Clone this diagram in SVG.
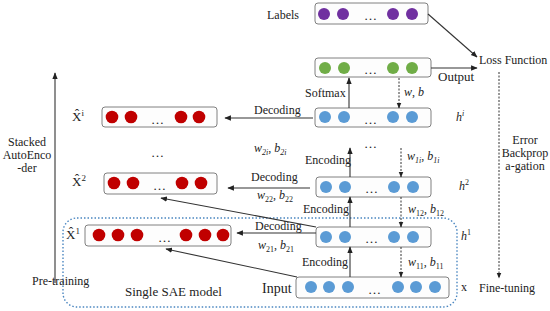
<svg xmlns="http://www.w3.org/2000/svg" width="550" height="311" viewBox="0 0 550 311">
<style>
text{font-family:"Liberation Serif","DejaVu Serif",serif;font-size:12px;fill:#222}
.box{fill:#fdfdfd;stroke:#808080;stroke-width:1}
.red{fill:#c00000}
.blue{fill:#5b9bd5}
.green{fill:#70ad47}
.purple{fill:#7030a0}
.ln{stroke:#333;stroke-width:1.1;fill:none}
.dash{stroke:#333;stroke-width:1;fill:none;stroke-dasharray:2,1.5}
.it{font-style:italic}
.dots{font-size:13px}
</style>
<defs>
<marker id="ah" viewBox="0 0 10 10" refX="9" refY="5" markerWidth="6" markerHeight="6" orient="auto">
<path d="M0,1 L10,5 L0,9 z" fill="#222"/>
</marker>
</defs>
<rect x="0" y="0" width="550" height="311" fill="#fff"/>

<g id="sae-frame">
<rect x="63" y="218" width="394" height="89" rx="14" fill="none" stroke="#4a86c0" stroke-width="1.4" stroke-dasharray="1.5,2"/>
<text x="125" y="296" style="font-size:13px">Single SAE model</text>
</g>

<g id="labels">
<text x="267" y="19">Labels</text>
<rect class="box" x="315" y="3" width="113" height="21" rx="3"/>
<circle class="purple" cx="324" cy="14" r="6"/><circle class="purple" cx="343" cy="14" r="6"/>
<text class="dots" x="364" y="20">…</text>
<circle class="purple" cx="393" cy="14" r="6"/><circle class="purple" cx="412" cy="14" r="6"/>
</g>

<g id="output">
<rect class="box" x="315" y="58" width="116" height="19" rx="3"/>
<circle class="green" cx="325" cy="68" r="6"/><circle class="green" cx="344" cy="68" r="6"/>
<text class="dots" x="364" y="74">…</text>
<circle class="green" cx="393" cy="68" r="6"/><circle class="green" cx="412" cy="68" r="6"/>
<text x="438" y="81" style="font-size:13px">Output</text>
</g>

<g id="loss">
<text x="479" y="64">Loss Function</text>
</g>

<g id="hi">
<rect class="box" x="315" y="108" width="116" height="19" rx="3"/>
<circle class="blue" cx="325" cy="117" r="6"/><circle class="blue" cx="344" cy="117" r="6"/>
<text class="dots" x="364" y="124">…</text>
<circle class="blue" cx="393" cy="117" r="6"/><circle class="blue" cx="412" cy="117" r="6"/>
<text class="it" x="456" y="121">h<tspan dy="-5" style="font-size:8px">i</tspan></text>
</g>

<g id="h2">
<rect class="box" x="316" y="177" width="115" height="20" rx="3"/>
<circle class="blue" cx="326" cy="187" r="6"/><circle class="blue" cx="345" cy="187" r="6"/>
<text class="dots" x="365" y="193">…</text>
<circle class="blue" cx="394" cy="187" r="6"/><circle class="blue" cx="413" cy="187" r="6"/>
<text class="it" x="459" y="190">h<tspan dy="-5" style="font-size:8px;font-style:normal">2</tspan></text>
</g>

<g id="h1">
<rect class="box" x="316" y="227" width="115" height="20" rx="3"/>
<circle class="blue" cx="326" cy="237" r="6"/><circle class="blue" cx="345" cy="237" r="6"/>
<text class="dots" x="365" y="243">…</text>
<circle class="blue" cx="394" cy="237" r="6"/><circle class="blue" cx="413" cy="237" r="6"/>
<text class="it" x="461" y="240">h<tspan dy="-5" style="font-size:8px;font-style:normal">1</tspan></text>
</g>

<g id="input">
<rect class="box" x="296" y="277" width="153" height="21" rx="3"/>
<circle class="blue" cx="311" cy="287" r="6"/><circle class="blue" cx="329" cy="287" r="6"/><circle class="blue" cx="348" cy="287" r="6"/>
<text class="dots" x="368" y="294">…</text>
<circle class="blue" cx="398" cy="287" r="6"/><circle class="blue" cx="416" cy="287" r="6"/><circle class="blue" cx="435" cy="287" r="6"/>
<text x="262" y="293" style="font-size:14px">Input</text>
<text x="461" y="291">x</text>
</g>

<g id="xi">
<text x="72" y="121" style="font-size:13px">X̂<tspan dy="-5" style="font-size:9px">i</tspan></text>
<rect class="box" x="102" y="107" width="115" height="20" rx="3"/>
<circle class="red" cx="112" cy="117" r="6.3"/><circle class="red" cx="131" cy="117" r="6.3"/>
<text class="dots" x="151" y="124">…</text>
<circle class="red" cx="181" cy="117" r="6.3"/><circle class="red" cx="199" cy="117" r="6.3"/>
</g>

<g id="x2">
<text x="72" y="186" style="font-size:13px">X̂<tspan dy="-5" style="font-size:9px">2</tspan></text>
<rect class="box" x="104" y="173" width="113" height="21" rx="3"/>
<circle class="red" cx="114" cy="183" r="6.3"/><circle class="red" cx="133" cy="183" r="6.3"/>
<text class="dots" x="153" y="190">…</text>
<circle class="red" cx="182" cy="183" r="6.3"/><circle class="red" cx="201" cy="183" r="6.3"/>
</g>

<g id="x1">
<text x="66" y="239" style="font-size:13px">X̂<tspan dy="-5" style="font-size:9px">1</tspan></text>
<rect class="box" x="85" y="225" width="146" height="21" rx="3"/>
<circle class="red" cx="99" cy="235" r="6.3"/><circle class="red" cx="118" cy="235" r="6.3"/><circle class="red" cx="137" cy="235" r="6.3"/>
<text class="dots" x="158" y="242">…</text>
<circle class="red" cx="186" cy="235" r="6.3"/><circle class="red" cx="205" cy="235" r="6.3"/><circle class="red" cx="223" cy="235" r="6.3"/>
</g>

<g id="side-labels">
<text x="27" y="146" text-anchor="middle">Stacked</text>
<text x="27" y="159" text-anchor="middle">AutoEnco</text>
<text x="27" y="172" text-anchor="middle">-der</text>
<text x="32" y="285">Pre-training</text>
<text x="525" y="144" text-anchor="middle">Error</text>
<text x="525" y="157" text-anchor="middle">Backprop</text>
<text x="525" y="170" text-anchor="middle">a-gation</text>
<text x="479" y="292">Fine-tuning</text>
<text class="dots" x="151" y="157">…</text>
<text class="dots" x="364" y="148">…</text>
</g>

<g id="connectors">
<line class="ln" x1="428" y1="14" x2="477" y2="57" marker-end="url(#ah)"/>
<line class="ln" x1="431" y1="68" x2="477" y2="68" marker-end="url(#ah)"/>
<line class="ln" x1="349" y1="108" x2="349" y2="78" marker-end="url(#ah)"/>
<line class="dash" x1="399" y1="78" x2="399" y2="108" marker-end="url(#ah)"/>
<line class="ln" x1="350" y1="177" x2="350" y2="148" marker-end="url(#ah)"/>
<line class="dash" x1="401" y1="148" x2="401" y2="177" marker-end="url(#ah)"/>
<line class="ln" x1="350" y1="227" x2="350" y2="197" marker-end="url(#ah)"/>
<line class="dash" x1="401" y1="197" x2="401" y2="227" marker-end="url(#ah)"/>
<line class="ln" x1="350" y1="277" x2="350" y2="247" marker-end="url(#ah)"/>
<line class="dash" x1="401" y1="247" x2="401" y2="277" marker-end="url(#ah)"/>
<line class="ln" x1="313" y1="118" x2="225" y2="118" marker-end="url(#ah)"/>
<line class="ln" x1="310" y1="188" x2="228" y2="188" marker-end="url(#ah)"/>
<line class="ln" x1="316" y1="233" x2="237" y2="233" marker-end="url(#ah)"/>
<line class="ln" x1="316" y1="227" x2="161" y2="198" marker-end="url(#ah)"/>
<line class="ln" x1="297" y1="277" x2="166" y2="249" marker-end="url(#ah)"/>
<line class="dash" x1="499" y1="72" x2="499" y2="278" marker-end="url(#ah)"/>
<line class="ln" x1="55" y1="283" x2="55" y2="73" marker-end="url(#ah)"/>
<text x="305" y="97">Softmax</text>
<text x="404" y="96"><tspan class="it">w</tspan>, <tspan class="it">b</tspan></text>
<text x="254" y="114">Decoding</text>
<text x="254" y="152"><tspan class="it">w</tspan><tspan class="it" dy="3" style="font-size:8px">2i</tspan><tspan dy="-3">, </tspan><tspan class="it">b</tspan><tspan class="it" dy="3" style="font-size:8px">2i</tspan></text>
<text x="305" y="164">Encoding</text>
<text x="407" y="160"><tspan class="it">w</tspan><tspan class="it" dy="3" style="font-size:8px">1i</tspan><tspan dy="-3">, </tspan><tspan class="it">b</tspan><tspan class="it" dy="3" style="font-size:8px">1i</tspan></text>
<text x="251" y="181">Decoding</text>
<text x="257" y="199"><tspan class="it">w</tspan><tspan dy="3" style="font-size:8px">22</tspan><tspan dy="-3">, </tspan><tspan class="it">b</tspan><tspan dy="3" style="font-size:8px">22</tspan></text>
<text x="303" y="213">Encoding</text>
<text x="408" y="213"><tspan class="it">w</tspan><tspan dy="3" style="font-size:8px">12</tspan><tspan dy="-3">, </tspan><tspan class="it">b</tspan><tspan dy="3" style="font-size:8px">12</tspan></text>
<text x="255" y="230">Decoding</text>
<text x="258" y="249"><tspan class="it">w</tspan><tspan dy="3" style="font-size:8px">21</tspan><tspan dy="-3">, </tspan><tspan class="it">b</tspan><tspan dy="3" style="font-size:8px">21</tspan></text>
<text x="302" y="266">Encoding</text>
<text x="408" y="266"><tspan class="it">w</tspan><tspan dy="3" style="font-size:8px">11</tspan><tspan dy="-3">, </tspan><tspan class="it">b</tspan><tspan dy="3" style="font-size:8px">11</tspan></text>
</g>
</svg>
